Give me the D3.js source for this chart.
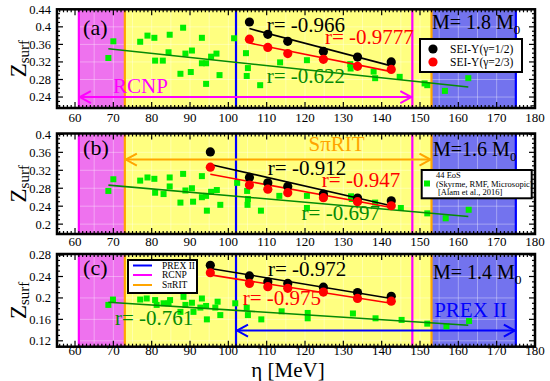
<!DOCTYPE html>
<html><head><meta charset="utf-8">
<script src="https://cdn.jsdelivr.net/npm/d3@7"></script>
<style>body{margin:0;background:#fff}svg{display:block}text{font-family:"Liberation Serif","Times New Roman",serif}</style>
</head><body><svg id="chart" width="550" height="381"></svg>
<script>
// ---------------- DATA ----------------
const xTicks = [60,70,80,90,100,110,120,130,140,150,160,170,180];
const yTicksA = [0.24,0.28,0.32,0.36,0.4,0.44];
const yTicksB = [0.2,0.24,0.28,0.32,0.36,0.4];
const yTicksC = [0.12,0.16,0.2,0.24,0.28];
const panelNames = ["(a)","(b)","(c)"];
const massText = ["M= 1.8 M","M=1.6 M","M= 1.4 M"];

// experiment ranges (eta, MeV)
const rcnpRange = [61, 148];
const spiritRange = [73, 153];
const prexRange = [102, 175];

// 44 EoS (eta, Zsurf)
const eosA = [[68.7,0.329],[70.0,0.367],[77.0,0.366],[78.9,0.380],[80.7,0.375],[84.7,0.382],[88.2,0.398],[93.1,0.375],[80.9,0.323],[82.9,0.323],[84.4,0.342],[88.8,0.339],[90.5,0.346],[87.5,0.293],[90.2,0.297],[93.1,0.317],[94.2,0.317],[94.2,0.270],[95.5,0.332],[96.9,0.339],[97.7,0.290],[101.5,0.374],[104.6,0.340],[105.1,0.306],[104.8,0.288],[108.3,0.267],[113.5,0.319],[120.5,0.324],[131.8,0.315],[131.9,0.305],[137.9,0.298],[138.3,0.283],[144.7,0.286],[151.2,0.271],[151.9,0.267],[156.5,0.254],[162.6,0.283]];
const eosB = [[68.7,0.274],[70.0,0.300],[77.0,0.297],[78.9,0.304],[80.7,0.301],[80.9,0.270],[83.1,0.267],[84.7,0.284],[84.7,0.304],[88.2,0.312],[87.5,0.248],[88.8,0.275],[90.5,0.280],[90.8,0.250],[93.1,0.307],[93.1,0.260],[94.2,0.263],[94.4,0.230],[95.5,0.272],[97.0,0.276],[97.9,0.243],[102.3,0.292],[104.9,0.274],[105.1,0.256],[105.0,0.243],[108.5,0.230],[113.3,0.263],[120.5,0.236],[120.5,0.263],[132.2,0.256],[132.0,0.262],[138.3,0.248],[145.0,0.236],[151.9,0.224],[156.7,0.213],[162.7,0.232]];
const eosC = [[68.7,0.187],[69.9,0.197],[77.0,0.197],[78.7,0.199],[80.9,0.196],[84.8,0.196],[88.3,0.202],[93.1,0.199],[81.3,0.187],[83.1,0.190],[84.4,0.190],[88.8,0.187],[90.5,0.191],[87.5,0.174],[90.9,0.174],[92.7,0.182],[94.2,0.185],[94.4,0.160],[96.6,0.182],[97.2,0.193],[97.9,0.168],[101.8,0.190],[104.8,0.182],[105.1,0.168],[108.6,0.160],[113.9,0.175],[120.7,0.172],[120.7,0.162],[132.5,0.171],[138.4,0.162],[145.2,0.159],[151.9,0.152],[156.9,0.147],[162.8,0.157]];

// SEI-Y model points
const seiEta = [95.3,105.5,110.3,115.5,124.8,133.7,142.5];
const seiHalfA = [null,0.411,0.383,0.367,0.344,0.331,0.320];
const seiTwoThirdA = [null,0.372,0.353,0.339,0.326,0.310,0.303];
const seiHalfB = [0.361,0.304,0.292,0.284,0.267,0.258,0.252];
const seiTwoThirdB = [0.327,0.287,0.278,0.270,0.259,0.250,0.241];
const seiHalfC = [0.261,0.241,0.230,0.227,0.220,0.210,0.203];
const seiTwoThirdC = [0.247,0.227,0.221,0.218,0.211,0.199,0.194];

// linear fits (end points)
const fitHalfA = [[105.5,0.396],[142.5,0.311]];
const fitTwoThirdA = [[105.5,0.363],[142.5,0.298]];
const fitEosA = [[68.7,0.350],[162.6,0.263]];
const fitHalfB = [[95.3,0.333],[142.5,0.241]];
const fitTwoThirdB = [[95.3,0.311],[142.5,0.237]];
const fitEosB = [[68.7,0.287],[162.6,0.217]];
const fitHalfC = [[95.3,0.255],[142.5,0.199]];
const fitTwoThirdC = [[95.3,0.243],[142.5,0.190]];
const fitEosC = [[68.7,0.192],[162.6,0.149]];

const rTextsA = ["r= -0.966","r= -0.9777","r= -0.622"];
const rTextsB = ["r= -0.912","r= -0.947","r= -0.697"];
const rTextsC = ["r= -0.972","r= -0.975","r= -0.761"];

// ---------------- DRAW ----------------
const svg = d3.select("#chart");
const X0 = 57, X1 = 535;
const x = d3.scaleLinear().domain([55.3,180]).range([X0,X1]);

const C = {yellow:"#ffff80", magenta:"#ee72ee", blue:"#7373ee",
  mag:"#ff00ff", orange:"#ffa500", blu:"#0000ff", green:"#00ee00", dgreen:"#058a05", red:"#ff0000"};

const panels = [
  {top:9.3, bottom:108, dom:[0.215,0.44], ticks:yTicksA, eos:eosA, half:seiHalfA, two:seiTwoThirdA,
   fits:[fitEosA,fitTwoThirdA,fitHalfA], r:rTextsA, lblY:121.5,
   rPos:[[110.0,0.388],[125.2,0.361],[110.0,0.271]], namePos:[62.1,0.381], massPos:[153.1,0.395]},
  {top:133.5, bottom:234, dom:[0.178,0.402], ticks:yTicksB, eos:eosB, half:seiHalfB, two:seiTwoThirdB,
   fits:[fitEosB,fitTwoThirdB,fitHalfB], r:rTextsB, lblY:246,
   rPos:[[110.3,0.3095],[124.4,0.2834],[119.1,0.2092]], namePos:[62.1,0.354], massPos:[153.4,0.352]},
  {top:254, bottom:346.7, dom:[0.109,0.282], ticks:yTicksC, eos:eosC, half:seiHalfC, two:seiTwoThirdC,
   fits:[fitEosC,fitTwoThirdC,fitHalfC], r:rTextsC, lblY:354.5,
   rPos:[[110.35,0.2409],[103.75,0.1868],[70.43,0.1494]], namePos:[62.1,0.2428], massPos:[153.4,0.2353]}
];

function arrow(g, x1, x2, yy, color){
  g.append("line").attr("x1",x1).attr("x2",x2).attr("y1",yy).attr("y2",yy)
    .attr("stroke",color).attr("stroke-width",2);
  const L=12, H=6;
  g.append("path").attr("d",`M${x1+L},${yy-H}L${x1+1},${yy}L${x1+L},${yy+H}`)
    .attr("fill","none").attr("stroke",color).attr("stroke-width",2);
  g.append("path").attr("d",`M${x2-L},${yy-H}L${x2-1},${yy}L${x2-L},${yy+H}`)
    .attr("fill","none").attr("stroke",color).attr("stroke-width",2);
}

panels.forEach((p,i)=>{
  const y = d3.scaleLinear().domain(p.dom).range([p.bottom,p.top]);
  const g = svg.append("g");
  const cid = "clip"+i;
  svg.append("clipPath").attr("id",cid).append("rect")
    .attr("x",X0).attr("y",p.top).attr("width",X1-X0).attr("height",p.bottom-p.top);
  const pg = g.append("g").attr("clip-path",`url(#${cid})`);
  const H = p.bottom-p.top;
  // shaded regions
  pg.append("rect").attr("x",x(rcnpRange[0])).attr("width",x(spiritRange[0])-x(rcnpRange[0]))
    .attr("y",p.top).attr("height",H).attr("fill",C.magenta);
  pg.append("rect").attr("x",x(spiritRange[0])).attr("width",x(spiritRange[1])-x(spiritRange[0]))
    .attr("y",p.top).attr("height",H).attr("fill",C.yellow);
  pg.append("rect").attr("x",x(spiritRange[1])).attr("width",x(prexRange[1])-x(spiritRange[1]))
    .attr("y",p.top).attr("height",H).attr("fill",C.blue);
  // grid
  d3.range(60,180,5).forEach(v=>{
    pg.append("line").attr("x1",x(v)).attr("x2",x(v)).attr("y1",p.top).attr("y2",p.bottom)
      .attr("stroke","#fff").attr("stroke-opacity",0.35).attr("stroke-width",1);
  });
  p.ticks.forEach(v=>{
    pg.append("line").attr("x1",X0).attr("x2",X1).attr("y1",y(v)).attr("y2",y(v))
      .attr("stroke","#fff").attr("stroke-opacity",0.35).attr("stroke-width",1);
  });
  // vertical range lines
  [[rcnpRange,C.mag],[spiritRange,C.orange],[prexRange,C.blu]].forEach(([r,c])=>{
    r.forEach(v=>pg.append("line").attr("x1",x(v)).attr("x2",x(v)).attr("y1",p.top).attr("y2",p.bottom)
      .attr("stroke",c).attr("stroke-width",2.2));
  });
  // arrows + labels
  if(i===0){
    arrow(pg, x(rcnpRange[0]), x(rcnpRange[1]), y(0.24), C.mag);
    pg.append("text").attr("x",x(69.9)).attr("y",y(0.249)).attr("fill",C.mag).attr("font-size",21).text("RCNP");
  } else if(i===1){
    arrow(pg, x(spiritRange[0]), x(spiritRange[1]), y(0.344), C.orange);
    pg.append("text").attr("x",x(120.9)).attr("y",y(0.3625)).attr("fill",C.orange).attr("font-size",21).text("SπRIT");
  } else {
    arrow(pg, x(prexRange[0]), x(prexRange[1]), y(0.139), C.blu);
    pg.append("text").attr("x",x(153.7)).attr("y",y(0.1649)).attr("fill",C.blu).attr("font-size",21).text("PREX II");
  }
  // EoS squares
  const s = 6;
  pg.selectAll(".eos").data(p.eos).enter().append("rect")
    .attr("x",d=>x(d[0])-s/2).attr("y",d=>y(d[1])-s/2).attr("width",s).attr("height",s).attr("fill",C.green);
  // fit lines
  const line = d3.line().x(d=>x(d[0])).y(d=>y(d[1]));
  [[p.fits[0],C.dgreen],[p.fits[1],C.red],[p.fits[2],"#000"]].forEach(([f,c])=>{
    pg.append("path").attr("d",line(f)).attr("stroke",c).attr("stroke-width",1.6).attr("fill","none");
  });
  // SEI points
  const halfPts = seiEta.map((e,k)=>[e,p.half[k]]).filter(d=>d[1]!==null);
  const twoPts = seiEta.map((e,k)=>[e,p.two[k]]).filter(d=>d[1]!==null);
  pg.selectAll(".h").data(halfPts).enter().append("circle").attr("cx",d=>x(d[0])).attr("cy",d=>y(d[1])).attr("r",4.6).attr("fill","#000");
  pg.selectAll(".t").data(twoPts).enter().append("circle").attr("cx",d=>x(d[0])).attr("cy",d=>y(d[1])).attr("r",4.6).attr("fill",C.red);
  // r texts
  const rc = ["#000",C.red,C.dgreen];
  p.r.forEach((t,k)=>{
    pg.append("text").attr("x",x(p.rPos[k][0])).attr("y",y(p.rPos[k][1])).attr("font-size",21).attr("fill",rc[k]).text(t);
  });
  // panel name
  pg.append("text").attr("x",x(p.namePos[0])).attr("y",y(p.namePos[1])).attr("font-size",22).text(panelNames[i]);
  // mass text
  const mt = pg.append("text").attr("x",x(p.massPos[0])).attr("y",y(p.massPos[1])).attr("font-size",20);
  mt.append("tspan").text(massText[i]);
  mt.append("tspan").attr("font-size",13).attr("dy",5).text("0");

  // ticks
  const tg = g.append("g").attr("stroke","#000").attr("stroke-width",1.2);
  d3.range(56,180,1).forEach(v=>{
    const major = v%10===0, len = major?6:3;
    tg.append("line").attr("x1",x(v)).attr("x2",x(v)).attr("y1",p.bottom).attr("y2",p.bottom-len);
    tg.append("line").attr("x1",x(v)).attr("x2",x(v)).attr("y1",p.top).attr("y2",p.top+len);
  });
  const yMinor = d3.range(Math.ceil(p.dom[0]*100), Math.floor(p.dom[1]*100)+1).map(v=>v/100);
  yMinor.forEach(v=>{
    const major = p.ticks.some(t=>Math.abs(t-v)<1e-6), len = major?6:3;
    tg.append("line").attr("x1",X0).attr("x2",X0+len).attr("y1",y(v)).attr("y2",y(v));
    tg.append("line").attr("x1",X1).attr("x2",X1-len).attr("y1",y(v)).attr("y2",y(v));
  });
  // tick labels
  xTicks.forEach(v=>{
    g.append("text").attr("x",x(v)).attr("y",p.lblY).attr("text-anchor","middle").attr("font-size",13).text(v);
  });
  p.ticks.forEach(v=>{
    g.append("text").attr("x",51).attr("y",y(v)).attr("dy","0.35em").attr("text-anchor","end").attr("font-size",12.5).text(String(v));
  });
  // frame
  g.append("rect").attr("x",X0).attr("y",p.top).attr("width",X1-X0).attr("height",H)
    .attr("fill","none").attr("stroke","#000").attr("stroke-width",2.5);
  // y title
  const yt = g.append("text").attr("transform",`translate(26,${(p.top+p.bottom)/2}) rotate(-90)`)
    .attr("text-anchor","middle");
  yt.append("tspan").attr("font-size",23).text("Z");
  yt.append("tspan").attr("font-size",15).attr("dy",3).text("surf");
});

// legends
// (a)
{
  const lg = svg.append("g");
  lg.append("rect").attr("x",420).attr("y",39).attr("width",102).attr("height",33).attr("fill","#fff").attr("stroke","#000").attr("stroke-width",2);
  lg.append("circle").attr("cx",433).attr("cy",49).attr("r",4.6).attr("fill","#000");
  lg.append("circle").attr("cx",433).attr("cy",62).attr("r",4.6).attr("fill",C.red);
  lg.append("text").attr("x",450).attr("y",53).attr("font-size",11.5).text("SEI-Y(γ=1/2)");
  lg.append("text").attr("x",450).attr("y",66).attr("font-size",11.5).text("SEI-Y(γ=2/3)");
}
// (b)
{
  const lg = svg.append("g");
  lg.append("rect").attr("x",421.7).attr("y",170).attr("width",110).attr("height",28.3).attr("fill","#fff").attr("stroke","#000").attr("stroke-width",2);
  lg.append("rect").attr("x",424).attr("y",180.5).attr("width",6).attr("height",6).attr("fill",C.green);
  lg.append("text").attr("x",436).attr("y",177.5).attr("font-size",8.5).text("44 EoS");
  lg.append("text").attr("x",436).attr("y",186.5).attr("font-size",8.5).text("(Skyrme, RMF, Microsopic)");
  lg.append("text").attr("x",438).attr("y",195).attr("font-size",8.5).text("[Alam et al., 2016]");
}
// (c)
{
  const lg = svg.append("g");
  lg.append("rect").attr("x",128).attr("y",260).attr("width",69).attr("height",33).attr("fill","#fff").attr("stroke","#000").attr("stroke-width",2);
  [["PREX II",C.blu,265.5],["RCNP",C.mag,275],["SπRIT",C.orange,285]].forEach(([t,c,yy])=>{
    lg.append("line").attr("x1",133).attr("x2",152).attr("y1",yy).attr("y2",yy).attr("stroke",c).attr("stroke-width",2);
    lg.append("text").attr("x",162).attr("y",yy).attr("dy","0.35em").attr("font-size",9.5).text(t);
  });
}
// x title
svg.append("text").attr("x",288).attr("y",377).attr("text-anchor","middle").attr("font-size",21).text("η [MeV]");
</script></body></html>
